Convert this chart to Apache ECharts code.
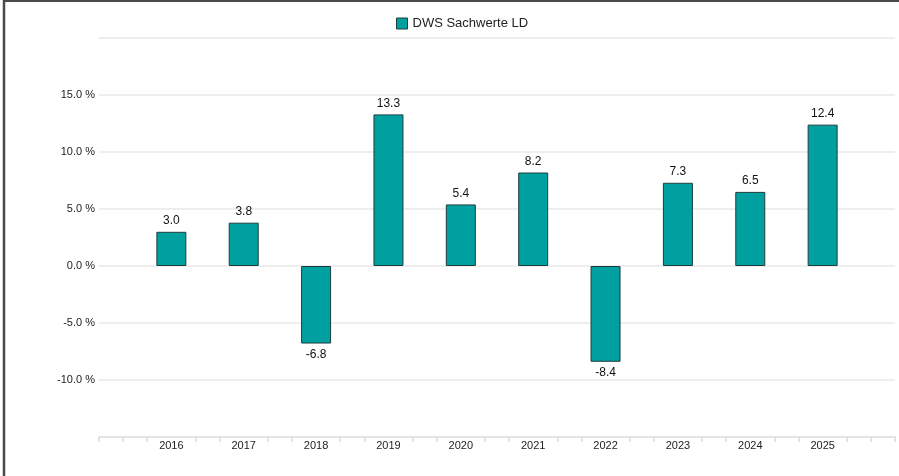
<!DOCTYPE html>
<html>
<head>
<meta charset="utf-8">
<script src="https://cdn.jsdelivr.net/npm/echarts@6/dist/echarts.min.js"></script>
<style>
html,body{margin:0;padding:0;background:#fff;}
#c{width:899px;height:476px;}
</style>
</head>
<body>
<div id="c"></div>
<script>
const seriesName = 'DWS Sachwerte LD';
const years = [2016, 2017, 2018, 2019, 2020, 2021, 2022, 2023, 2024, 2025];
const values = [3.0, 3.8, -6.8, 13.3, 5.4, 8.2, -8.4, 7.3, 6.5, 12.4];
const yTicks = [-15, -10, -5, 0, 5, 10, 15, 20];
const yLabelled = [-10, -5, 0, 5, 10, 15];

const chart = echarts.init(document.getElementById('c'), null, {renderer: 'canvas'});
const font = 'Liberation Sans, Arial, Helvetica, sans-serif';
const teal = '#00a0a0';
const edge = '#1f3d3d';

chart.setOption({
  animation: false,
  textStyle: {fontFamily: font},
  legend: {
    top: 12,
    left: 391,
    itemWidth: 11,
    itemHeight: 11,
    itemGap: 10,
    textStyle: {fontSize: 13, color: '#222', fontFamily: font},
    data: [{name: seriesName, icon: 'rect', itemStyle: {borderColor: edge, borderWidth: 1}}]
  },
  grid: {left: 99, right: 4, top: 38, bottom: 39, containLabel: false},
  xAxis: [{
    type: 'value',
    min: years[0] - 1,
    max: years[years.length - 1] + 1,
    interval: 1,
    axisLine: {show: true, onZero: false, lineStyle: {color: '#e4e4e4', width: 2}},
    axisTick: {show: false},
    minorTick: {show: true, splitNumber: 3, length: 5, lineStyle: {color: '#dcdcdc', width: 1.5}},
    splitLine: {show: false},
    minorSplitLine: {show: false},
    axisLabel: {
      margin: 3,
      fontSize: 11,
      color: '#222',
      fontFamily: font,
      formatter: v => (years.indexOf(v) >= 0 ? String(v) : '')
    }
  }, {
    type: 'value',
    position: 'bottom',
    min: years[0] - 1,
    max: years[years.length - 1] + 1,
    interval: years.length + 1,
    axisLine: {show: false, onZero: false},
    axisTick: {show: true, length: 5, lineStyle: {color: '#dcdcdc', width: 1.5}},
    axisLabel: {show: false},
    splitLine: {show: false}
  }],
  yAxis: {
    type: 'value',
    min: yTicks[0],
    max: yTicks[yTicks.length - 1],
    interval: 5,
    axisLine: {show: false},
    axisTick: {show: false},
    splitLine: {show: true, lineStyle: {color: '#e9e9e9', width: 1.5}},
    axisLabel: {
      margin: 4,
      fontSize: 11,
      color: '#222',
      fontFamily: font,
      formatter: v => (yLabelled.indexOf(v) >= 0 ? v.toFixed(1) + ' %' : '')
    }
  },
  series: [{
    name: seriesName,
    type: 'bar',
    xAxisIndex: 0,
    barWidth: 30,
    data: years.map((y, i) => ({
      value: [y, values[i]],
      label: {position: values[i] >= 0 ? 'top' : 'bottom'}
    })),
    itemStyle: {color: teal, borderColor: edge, borderWidth: 1},
    label: {
      show: true,
      distance: 5,
      fontSize: 12,
      color: '#111',
      fontFamily: font,
      formatter: p => p.value[1].toFixed(1)
    }
  }],
  graphic: [
    {type: 'line', shape: {x1: 4, y1: 0, x2: 4, y2: 476}, style: {stroke: '#4a4a4a', lineWidth: 2.5}, z: 100},
    {type: 'line', shape: {x1: 3, y1: 1, x2: 899, y2: 1}, style: {stroke: '#4a4a4a', lineWidth: 2}, z: 100}
  ]
});
</script>
</body>
</html>
